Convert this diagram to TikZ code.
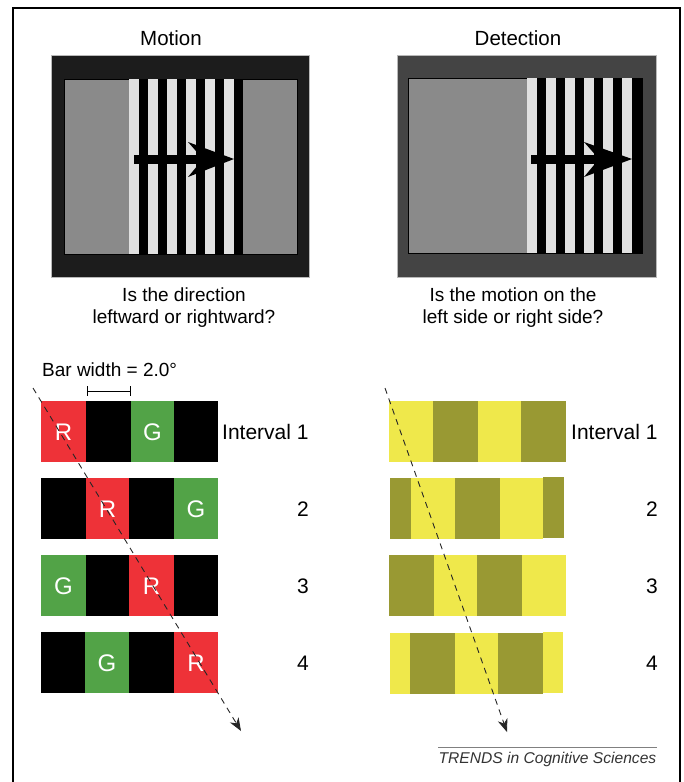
\documentclass[tikz,border=0pt]{standalone}
\usepackage{fontspec}
\setmainfont{Liberation Sans}
\usetikzlibrary{arrows.meta}

\definecolor{barred}{HTML}{EE3238}
\definecolor{bargreen}{HTML}{52A347}
\definecolor{baryellow}{HTML}{EFE84B}
\definecolor{barolive}{HTML}{999933}
\definecolor{screengray}{HTML}{8A8A8A}
\definecolor{stripe}{HTML}{E0E0E0}
\definecolor{caseA}{HTML}{1C1C1C}
\definecolor{caseB}{HTML}{444444}
\definecolor{footgray}{HTML}{333333}

\begin{document}
\begin{tikzpicture}[x=1pt,y=-1pt,
  caption/.style={inner sep=0pt, font=\fontsize{19}{22}\selectfont},
  title/.style={inner sep=0pt, font=\fontsize{20.5}{24}\selectfont},
  rowlabel/.style={inner sep=0pt, font=\fontsize{21}{24}\selectfont},
  letter/.style={inner sep=0pt, text=white, font=\fontsize{24}{27}\selectfont},
  casebox/.style={draw=gray!55, line width=0.8pt},
  screen/.style={fill=screengray, draw=black, line width=0.6pt},
  dashline/.style={draw=black!85, line width=0.9pt, dash pattern=on 6pt off 5pt,
    -{Stealth[length=13pt,width=10pt,inset=4pt]}},
]
\useasboundingbox (0,0) rectangle (683,782);

% outer frame, open at the bottom
\draw[line width=2pt] (13,782) -- (13,8) -- (680,8) -- (680,782);

% ---- Motion display ----
\node[title] (tmotion) at (171,38) {Motion};
\fill[caseA, casebox] (51,55) rectangle (309,277);
\fill[screen] (64,79) rectangle (297,254);
\foreach \i in {0,...,5} {
  \fill[stripe] (129+19*\i,79) rectangle ++(10,175);
  \fill[black]  (139+19*\i,79) rectangle ++(9,175);
}
\fill[black] (134,154.5) rectangle (205,163.5);
\fill[black] (188,142) -- (234,159) -- (188,177) -- (203,159) -- cycle;
\node[caption, align=center] (qmotion) at (184,308) {Is the direction\\leftward or rightward?};

% ---- Detection display ----
\node[title] (tdetect) at (518,38) {Detection};
\fill[caseB, casebox] (397,55) rectangle (656,277);
\fill[screen] (408,78) rectangle (642,253);
\foreach \i in {0,...,5} {
  \fill[stripe] (527+19*\i,78) rectangle ++(10,175);
  \fill[black]  (537+19*\i,78) rectangle ++(9,175);
}
\fill[black] (632,78) rectangle (642,253);
\fill[black] (531,154.5) rectangle (602,163.5);
\fill[black] (584,142) -- (632,159) -- (584,177) -- (599,159) -- cycle;
\node[caption, align=center] (qdetect) at (513,308) {Is the motion on the\\left side or right side?};

% ---- bar width scale ----
\node[caption, anchor=west] (barlbl) at (42,370) {Bar width = 2.0°};
\draw[line width=0.8pt] (87,391) -- (130,391);
\draw[line width=0.8pt] (87,386) -- (87,396);
\draw[line width=0.8pt] (130,386) -- (130,396);

% ---- red/green intervals ----
% row 1
\fill[barred]   (41,401) rectangle (86,462);
\fill[black]    (86,401) rectangle (131,462);
\fill[bargreen] (131,401) rectangle (174,462);
\fill[black]    (174,401) rectangle (218,462);
\node[letter] (r1) at (63.5,432) {R};
\node[letter] (g1) at (152.5,432) {G};
% row 2
\fill[black]    (41,478) rectangle (86,539);
\fill[barred]   (86,478) rectangle (129,539);
\fill[black]    (129,478) rectangle (174,539);
\fill[bargreen] (174,478) rectangle (218,539);
\node[letter] (r2) at (107.5,509) {R};
\node[letter] (g2) at (196,509) {G};
% row 3
\fill[bargreen] (41,555) rectangle (86,616);
\fill[black]    (86,555) rectangle (129,616);
\fill[barred]   (129,555) rectangle (174,616);
\fill[black]    (174,555) rectangle (218,616);
\node[letter] (g3) at (63.5,586) {G};
\node[letter] (r3) at (151.5,586) {R};
% row 4
\fill[black]    (41,632) rectangle (85,693);
\fill[bargreen] (85,632) rectangle (129,693);
\fill[black]    (129,632) rectangle (174,693);
\fill[barred]   (174,632) rectangle (218,693);
\node[letter] (g4) at (107,663) {G};
\node[letter] (r4) at (196,663) {R};

\node[rowlabel, anchor=west] (li1) at (222,432) {Interval 1};
\node[rowlabel] (li2) at (303,509) {2};
\node[rowlabel] (li3) at (303,586) {3};
\node[rowlabel] (li4) at (303,663) {4};

% ---- yellow/olive intervals ----
% row 1
\fill[baryellow] (389,401) rectangle (433,462);
\fill[barolive]  (433,401) rectangle (478,462);
\fill[baryellow] (478,401) rectangle (521,462);
\fill[barolive]  (521,401) rectangle (566,462);
% row 2
\fill[barolive]  (390,478) rectangle (411,539);
\fill[baryellow] (411,478) rectangle (455,539);
\fill[barolive]  (455,478) rectangle (500,539);
\fill[baryellow] (500,478) rectangle (543,539);
\fill[barolive]  (543,477) rectangle (564,538);
% row 3
\fill[barolive]  (389,555) rectangle (434,616);
\fill[baryellow] (434,555) rectangle (477,616);
\fill[barolive]  (477,555) rectangle (522,616);
\fill[baryellow] (522,555) rectangle (566,616);
% row 4
\fill[baryellow] (390,633) rectangle (410,694);
\fill[barolive]  (410,633) rectangle (455,694);
\fill[baryellow] (455,633) rectangle (498,694);
\fill[barolive]  (498,633) rectangle (543,694);
\fill[baryellow] (543,632) rectangle (563,693);

\node[rowlabel, anchor=west] (ri1) at (571,432) {Interval 1};
\node[rowlabel] (ri2) at (652,509) {2};
\node[rowlabel] (ri3) at (652,586) {3};
\node[rowlabel] (ri4) at (652,663) {4};

% ---- motion paths ----
\coordinate (lstart) at (33,388);
\coordinate (lend) at (241,731);
\draw[dashline] (lstart) -- (lend);
\coordinate (rstart) at (385,388);
\coordinate (rend) at (507,732);
\draw[dashline] (rstart) -- (rend);

% ---- footer ----
\coordinate (fl) at (438,747);
\coordinate (fr) at (657,747);
\draw[gray, line width=0.8pt] (fl) -- (fr);
\node[inner sep=0pt, text=footgray, font=\fontsize{15.6}{18}\selectfont\itshape] (footer) at (547.5,759) {TRENDS in Cognitive Sciences};
\end{tikzpicture}
\end{document}
